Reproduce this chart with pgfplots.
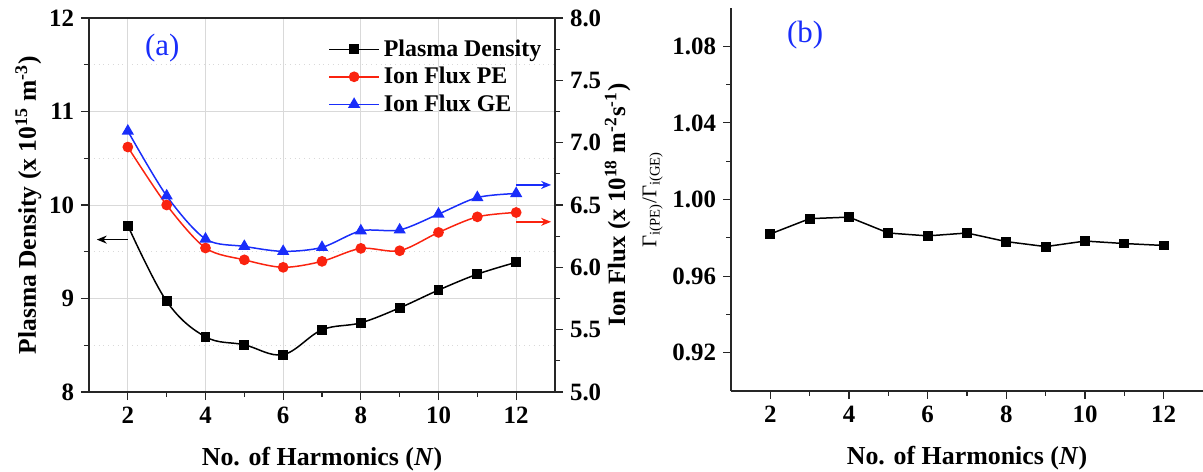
\documentclass[border=0pt]{standalone}
\usepackage{fontspec}
\setmainfont{Liberation Serif}
\usepackage{pgfplots}
\usepackage{pgfplotstable}
\pgfplotsset{compat=1.18}
\usetikzlibrary{arrows.meta}

\definecolor{pered}{RGB}{250,35,15}
\definecolor{geblue}{RGB}{25,45,250}

\newcommand{\tickfont}{\fontsize{12.5}{14}\selectfont\bfseries}

% N, plasma density (left axis), ion flux PE / GE (right axis), ratio (panel b)
\pgfplotstableread{
N  dens  pe     ge     ratio
2  9.78  6.965  7.093  0.9820
3  8.97  6.500  6.573  0.9900
4  8.59  6.155  6.227  0.9908
5  8.505 6.060  6.168  0.9825
6  8.40  6.000  6.128  0.9810
7  8.665 6.048  6.160  0.9825
8  8.74  6.152  6.293  0.9780
9  8.90  6.133  6.300  0.9754
10 9.09  6.280  6.427  0.9783
11 9.26  6.405  6.560  0.9770
12 9.387 6.440  6.592  0.9760
}\data

\pgfplotsset{
  panel/.style={
    scale only axis,
    xmin=1, xmax=13,
    xtick={2,4,...,12}, minor x tick num=1,
    tick align=outside,
    xticklabel style={font=\tickfont},
    yticklabel style={font=\tickfont},
    /pgf/number format/assume math mode=true,
    label style={font=\fontsize{13}{15}\selectfont\bfseries},
    xlabel style={yshift=-5bp},
    axis line style={line width=0.6pt, black!85},
    tick style={line width=0.6pt, black!85},
    major tick length=4bp, minor tick length=2.5bp,
  },
  lgline/.style={
    legend image code/.code={
      \draw[##1] (0bp,0bp) -- (25bp,0bp);
      \draw[##1, only marks] plot coordinates {(12.5bp,0bp)};
    }
  },
}

\begin{document}
\begin{tikzpicture}
\useasboundingbox (0,0) rectangle (601.5bp,236bp);

%% (a) left axis: plasma density
\begin{axis}[panel,
  at={(44.5bp,40bp)}, anchor=south west,
  width=233bp, height=187bp,
  ymin=8, ymax=12, ytick={8,9,10,11,12}, minor y tick num=1,
  xtick pos=bottom, ytick pos=left,
  xmajorgrids, ymajorgrids, yminorgrids,
  major grid style={gray!30, line width=0.5pt},
  minor grid style={gray!30, dotted, line width=0.5pt},
  xlabel={No. of Harmonics (\textit{N})},
  ylabel={Plasma Density (x 10\textsuperscript{15} m\textsuperscript{-3})},
  ylabel style={font=\fontsize{12.8}{15}\selectfont\bfseries, yshift=-3bp},
]
\addplot[black, line width=0.75pt, smooth, tension=0.6, mark=square*, mark size=2.1bp,
  mark options={solid}] table[x=N, y=dens] {\data};
\draw[-{Stealth[length=5bp,width=4bp]}, line width=0.7pt]
  (axis cs:2,9.63) -- (axis cs:1.2,9.63);
\node[font=\fontsize{15.5}{17}\selectfont, text=geblue] at (rel axis cs:0.157,0.92) {(a)};
\end{axis}

%% (a) right axis: ion flux
\begin{axis}[panel,
  at={(44.5bp,40bp)}, anchor=south west,
  width=233bp, height=187bp,
  ymin=5, ymax=8, ytick={5,5.5,6,6.5,7,7.5,8}, minor y tick num=1,
  xtick=\empty, minor xtick={},
  ytick pos=right, yticklabel pos=right,
  yticklabel style={/pgf/number format/.cd, fixed, fixed zerofill, precision=1},
  ylabel={Ion Flux (x 10\textsuperscript{18} m\textsuperscript{-2}s\textsuperscript{-1})},
  ylabel style={font=\fontsize{12.5}{14}\selectfont\bfseries, yshift=5bp},
  legend style={at={(rel axis cs:0.50,0.965)}, anchor=north west, draw=none, fill=none,
    font=\fontsize{12}{13}\selectfont\bfseries, row sep=0bp},
  legend cell align=left,
  lgline,
]
\addlegendimage{black, line width=0.75pt, mark=square*, mark size=2.1bp}
\addlegendentry{Plasma Density}
\addplot[pered, line width=0.75pt, smooth, mark=*, mark size=2.3bp]
  table[x=N, y=pe] {\data};
\addlegendentry{Ion Flux PE}
\addplot[geblue, line width=0.75pt, smooth, mark=triangle*, mark size=2.8bp]
  table[x=N, y=ge] {\data};
\addlegendentry{Ion Flux GE}
\draw[pered, -{Stealth[length=5bp,width=4bp]}, line width=0.7pt]
  (axis cs:12,6.365) -- (axis cs:12.9,6.365);
\draw[geblue, -{Stealth[length=5bp,width=4bp]}, line width=0.7pt]
  (axis cs:12,6.661) -- (axis cs:12.9,6.661);
\end{axis}

%% (b) ratio
\begin{axis}[panel,
  at={(365.5bp,40.5bp)}, anchor=south west,
  width=236bp, height=191.5bp,
  axis x line*=bottom, axis y line*=left,
  ymin=0.90, ymax=1.10, ytick={0.92,0.96,1.00,1.04,1.08}, minor y tick num=1,
  yticklabel style={/pgf/number format/.cd, fixed, fixed zerofill, precision=2},
  xlabel={No. of Harmonics (\textit{N})},
  ylabel={Γ\textsubscript{i(PE)}/Γ\textsubscript{i(GE)}},
  ylabel style={font=\fontsize{10.5}{12}\selectfont\mdseries, yshift=-2bp},
]
\addplot[black, line width=0.75pt, mark=square*, mark size=2.1bp]
  table[x=N, y=ratio] {\data};
\node[font=\fontsize{15.5}{17}\selectfont, text=geblue] at (rel axis cs:0.157,0.93) {(b)};
\end{axis}
\end{tikzpicture}
\end{document}
